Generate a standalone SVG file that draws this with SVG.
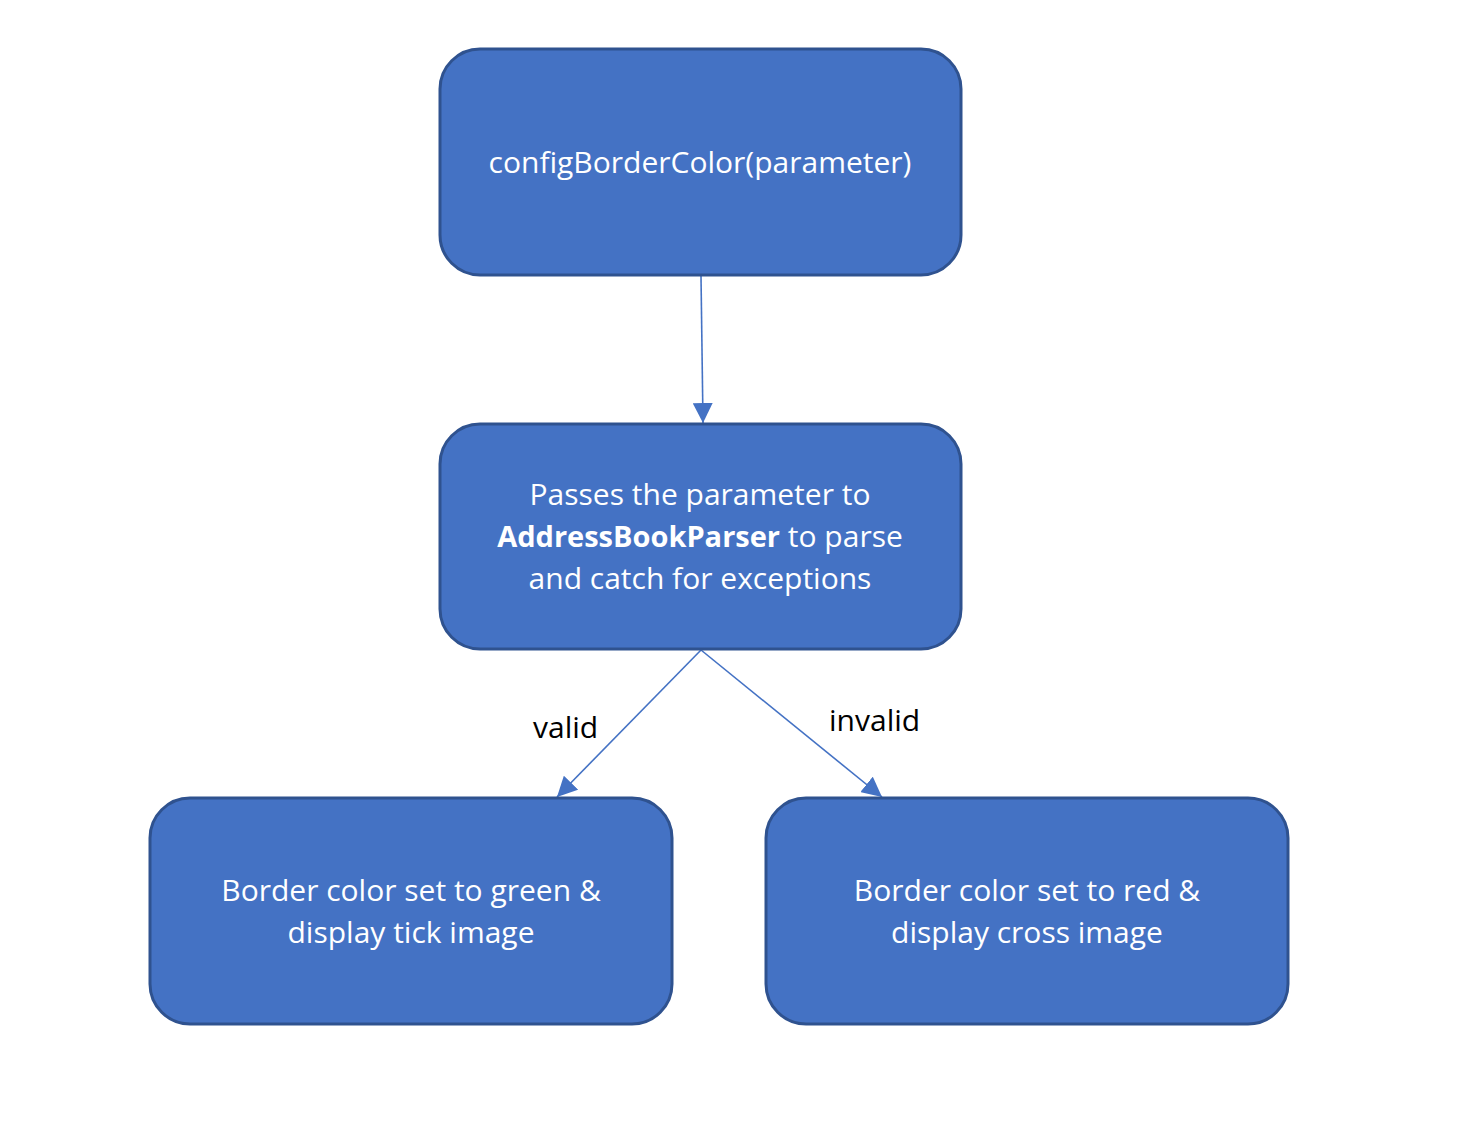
<svg xmlns="http://www.w3.org/2000/svg" width="1458" height="1132" viewBox="0 0 1458 1132">
<style>
.box{fill:#4472C4;stroke:#2F528F;stroke-width:3}
.t{font-family:"Open Sans","Liberation Sans",sans-serif;font-size:30px;fill:#fff;text-anchor:middle}
.lbl{font-family:"Open Sans","Liberation Sans",sans-serif;font-size:30px;fill:#000}
.c{stroke:#4472C4;stroke-width:1.6;fill:none;marker-end:url(#ah)}
</style>
<defs>
<marker id="ah" viewBox="0 0 10 10" refX="10" refY="5" markerWidth="20" markerHeight="20" markerUnits="userSpaceOnUse" orient="auto">
<path d="M0,0 L10,5 L0,10 z" fill="#4472C4"/>
</marker>
</defs>
<rect width="1458" height="1132" fill="#fff"/>
<g id="connectors">
<line class="c" x1="701" y1="276" x2="703" y2="423"/>
<line class="c" x1="701" y1="650" x2="557" y2="797"/>
<line class="c" x1="701" y1="650" x2="882" y2="797"/>
<text class="lbl" x="533" y="738">valid</text>
<text class="lbl" x="829" y="731">invalid</text>
</g>
<g id="node-config">
<rect class="box" x="440" y="49" width="521" height="226" rx="40"/>
<text class="t" x="700" y="173">configBorderColor(parameter)</text>
</g>
<g id="node-parse">
<rect class="box" x="440" y="424" width="521" height="225" rx="40"/>
<text class="t" x="700" y="505">Passes the parameter to</text>
<text class="t" x="700" y="547"><tspan font-weight="bold" font-size="29px">AddressBookParser</tspan> to parse</text>
<text class="t" x="700" y="589">and catch for exceptions</text>
</g>
<g id="node-valid">
<rect class="box" x="150" y="798" width="522" height="226" rx="40"/>
<text class="t" x="411" y="901">Border color set to green &amp;</text>
<text class="t" x="411" y="943">display tick image</text>
</g>
<g id="node-invalid">
<rect class="box" x="766" y="798" width="522" height="226" rx="40"/>
<text class="t" x="1027" y="901">Border color set to red &amp;</text>
<text class="t" x="1027" y="943">display cross image</text>
</g>
</svg>
